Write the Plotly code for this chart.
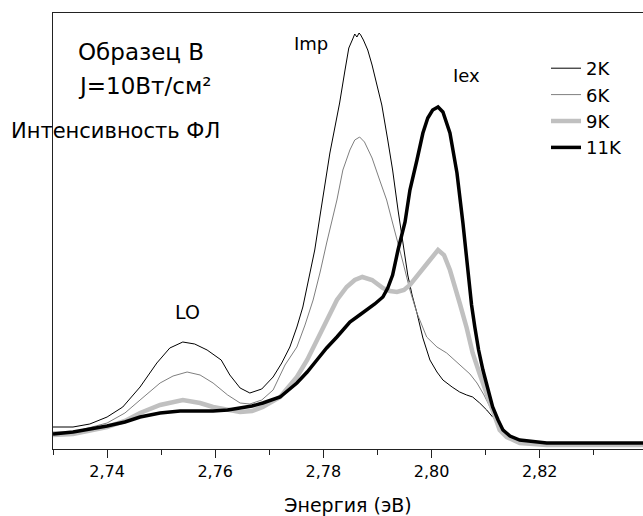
import plotly.graph_objects as go

# Energies (eV) and PL intensities (arb. units)
e_2k = [2.7300, 2.7337, 2.7368, 2.7400, 2.7429, 2.7461, 2.7492, 2.7516, 2.7540, 2.7562, 2.7585, 2.7611,
        2.7627, 2.7646, 2.7664, 2.7686, 2.7707, 2.7723, 2.7738, 2.7751, 2.7762, 2.7775, 2.7784, 2.7794,
        2.7803, 2.7812, 2.7821, 2.7830, 2.7840, 2.7847, 2.7855, 2.7858, 2.7862, 2.7866, 2.7869, 2.7874,
        2.7882, 2.7890, 2.7899, 2.7908, 2.7919, 2.7928, 2.7938, 2.7947, 2.7956, 2.7964, 2.7973, 2.7984,
        2.7997, 2.8010, 2.8021, 2.8038, 2.8052, 2.8065, 2.8076, 2.8089, 2.8102, 2.8113, 2.8126, 2.8139,
        2.8154, 2.8172, 2.8209, 2.8391]
i_2k = [22, 22, 25, 32, 42, 62, 86, 101, 107, 105, 99, 89,
        74, 61, 56, 60, 72, 86, 102, 122, 142, 174, 199, 234,
        264, 296, 321, 346, 379, 401, 411, 415, 412, 416, 414, 409,
        399, 384, 364, 344, 309, 279, 239, 206, 174, 154, 136, 111,
        89, 77, 69, 62, 57, 54, 52, 46, 39, 32, 25, 16,
        10, 7, 6, 6]

e_6k = [2.7300, 2.7337, 2.7400, 2.7433, 2.7461, 2.7498, 2.7522, 2.7548, 2.7572, 2.7596, 2.7623, 2.7646,
        2.7664, 2.7686, 2.7707, 2.7729, 2.7751, 2.7766, 2.7781, 2.7794, 2.7806, 2.7818, 2.7825, 2.7836,
        2.7849, 2.7858, 2.7867, 2.7876, 2.7890, 2.7904, 2.7917, 2.7928, 2.7938, 2.7947, 2.7960, 2.7973,
        2.7991, 2.8010, 2.8028, 2.8043, 2.8058, 2.8071, 2.8084, 2.8097, 2.8108, 2.8117, 2.8126, 2.8139,
        2.8154, 2.8172, 2.8209, 2.8391]
i_6k = [17, 17, 26, 36, 49, 66, 73, 77, 74, 66, 54, 46,
        45, 49, 59, 84, 102, 124, 149, 177, 206, 234, 249, 279,
        299, 309, 312, 307, 291, 269, 249, 226, 204, 187, 159, 136,
        112, 102, 96, 89, 82, 75, 66, 54, 42, 31, 22, 13,
        9, 7, 6, 6]

e_9k = [2.7300, 2.7337, 2.7400, 2.7433, 2.7461, 2.7498, 2.7540, 2.7572, 2.7596, 2.7623, 2.7646, 2.7668,
        2.7688, 2.7720, 2.7751, 2.7770, 2.7788, 2.7806, 2.7825, 2.7843, 2.7858, 2.7872, 2.7890, 2.7910,
        2.7923, 2.7936, 2.7949, 2.7960, 2.7978, 2.7997, 2.8012, 2.8023, 2.8034, 2.8043, 2.8052, 2.8065,
        2.8076, 2.8089, 2.8102, 2.8113, 2.8126, 2.8139, 2.8163, 2.8213, 2.8391]
i_9k = [14, 15, 22, 28, 36, 44, 49, 46, 42, 39, 37, 38,
        42, 52, 72, 89, 109, 129, 149, 162, 169, 172, 169, 161,
        158, 157, 159, 164, 177, 189, 199, 194, 179, 164, 146, 121,
        96, 75, 56, 37, 19, 12, 6, 4, 4]

e_11k = [2.7300, 2.7337, 2.7400, 2.7433, 2.7461, 2.7498, 2.7535, 2.7572, 2.7596, 2.7623, 2.7646, 2.7668,
         2.7688, 2.7720, 2.7751, 2.7770, 2.7788, 2.7806, 2.7825, 2.7849, 2.7867, 2.7880, 2.7895, 2.7910,
         2.7919, 2.7928, 2.7938, 2.7951, 2.7960, 2.7973, 2.7984, 2.7993, 2.8002, 2.8012, 2.8021, 2.8034,
         2.8047, 2.8058, 2.8067, 2.8074, 2.8080, 2.8087, 2.8095, 2.8104, 2.8113, 2.8123, 2.8132, 2.8145,
         2.8163, 2.8213, 2.8391]
i_11k = [15, 17, 23, 27, 32, 36, 38, 38, 38, 39, 41, 43,
         46, 52, 66, 77, 89, 101, 112, 127, 134, 139, 145, 152,
         161, 174, 199, 227, 259, 289, 316, 331, 339, 342, 337, 316,
         276, 226, 179, 144, 122, 99, 79, 59, 42, 29, 19, 13,
         9, 6, 6]

series_names = ["2K", "6K", "9K", "11K"]
x_tick_vals = [2.74, 2.76, 2.78, 2.80, 2.82]

FONT = "DejaVu Sans, Arial, sans-serif"

fig = go.Figure()
styles = [("#000000", 1), ("#7f7f7f", 1), ("#c0c0c0", 4.5), ("#000000", 3.5)]
data = [(e_2k, i_2k), (e_6k, i_6k), (e_9k, i_9k), (e_11k, i_11k)]
for name, (ex, iy), (col, w) in zip(series_names, data, styles):
    fig.add_trace(go.Scatter(x=ex, y=iy, mode="lines", name=name,
                             line=dict(color=col, width=w)))

W, H = 643, 516
L, R, T, B = 53, 0, 13, 67
pw, ph = W - L - R, H - T - B

def px(x):
    return (x - L) / pw

def py(y):
    return (H - B - y) / ph

ann = [
    dict(text="Образец В", x=px(76), y=py(52), xanchor="left", yanchor="middle", font=dict(size=23)),
    dict(text="J=10Вт/см²", x=px(76), y=py(86), xanchor="left", yanchor="middle", font=dict(size=23)),
    dict(text="Интенсивность ФЛ", x=px(9), y=py(131), xanchor="left", yanchor="middle", font=dict(size=21)),
    dict(text="Imp", x=px(311), y=py(44), xanchor="center", yanchor="middle", font=dict(size=18)),
    dict(text="Iex", x=px(466), y=py(76), xanchor="center", yanchor="middle", font=dict(size=18)),
    dict(text="LO", x=px(187), y=py(312), xanchor="center", yanchor="middle", font=dict(size=19)),
]
for a in ann:
    a.update(xref="paper", yref="paper", showarrow=False)
    a["font"].update(family=FONT, color="#000")

fig.update_layout(
    width=W, height=H,
    margin=dict(l=L, r=R, t=T, b=B),
    paper_bgcolor="white", plot_bgcolor="white",
    font=dict(family=FONT, color="#000"),
    separators=", ",
    annotations=ann,
    legend=dict(x=px(546), y=py(50), xanchor="left", yanchor="top",
                bgcolor="rgba(0,0,0,0)", font=dict(size=18, family=FONT),
                itemwidth=30, tracegroupgap=0),
    showlegend=True,
)
fig.update_xaxes(
    range=[2.73, 2.8391], showgrid=False, zeroline=False,
    showline=True, linecolor="#222", linewidth=1, mirror=True,
    tickmode="array", tickvals=x_tick_vals, tickformat=".2f",
    ticks="outside", ticklen=8, tickwidth=1, tickcolor="#222",
    minor=dict(dtick=0.01, tick0=2.73, ticks="outside", ticklen=5, tickcolor="#222", tickwidth=1),
    tickfont=dict(size=16, family=FONT),
    title=dict(text="Энергия (эВ)", font=dict(size=19, family=FONT), standoff=20),
)
fig.update_yaxes(
    range=[0, 436], showgrid=False, zeroline=False,
    showline=True, linecolor="#222", linewidth=1, mirror=False,
    showticklabels=False, ticks="",
)

fig.write_html("out.html")
